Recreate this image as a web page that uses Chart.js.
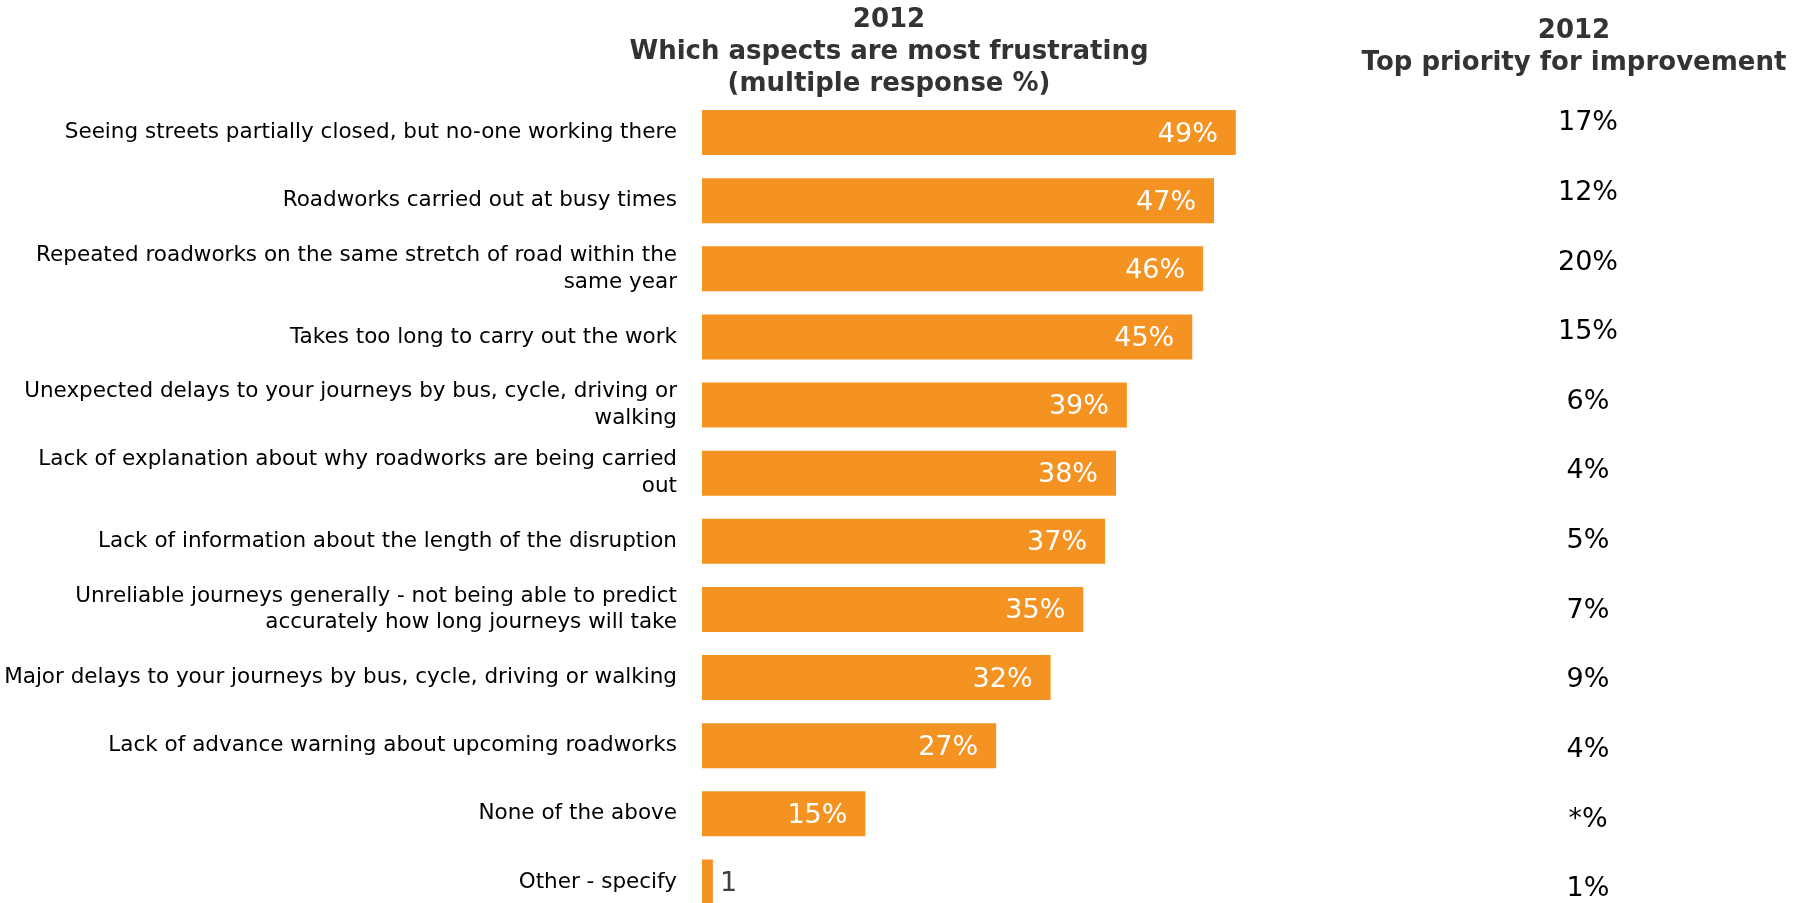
<!DOCTYPE html>
<html>
<head>
<meta charset="utf-8">
<title>Roadworks frustrations 2012</title>
<script src="https://cdn.jsdelivr.net/npm/chart.js@4.4.1/dist/chart.umd.min.js"></script>
<style>
    html, body { margin: 0; padding: 0; background: #fff; height: 903px; overflow: hidden; }
    #wrap { position: relative; width: 1796px; height: 916px; }
</style>
</head>
<body>
<div id="wrap"><canvas id="frustChart"></canvas></div>
<script>
// ========================================
// DATA
// ========================================

const aspects = [
    'Seeing streets partially closed, but no-one working there',
    'Roadworks carried out at busy times',
    ['Repeated roadworks on the same stretch of road within the', 'same year'],
    'Takes too long to carry out the work',
    ['Unexpected delays to your journeys by bus, cycle, driving or', 'walking'],
    ['Lack of explanation about why roadworks are being carried', 'out'],
    'Lack of information about the length of the disruption',
    ['Unreliable journeys generally - not being able to predict', 'accurately how long journeys will take'],
    'Major delays to your journeys by bus, cycle, driving or walking',
    'Lack of advance warning about upcoming roadworks',
    'None of the above',
    'Other - specify'
];

const frustrating = [49, 47, 46, 45, 39, 38, 37, 35, 32, 27, 15, 1];

const priorityLabels = ['17%', '12%', '20%', '15%', '6%', '4%', '5%', '7%', '9%', '4%', '*%', '1%'];

const leftHeading = ['2012', 'Which aspects are most frustrating', '(multiple response %)'];
const rightHeading = ['2012', 'Top priority for improvement'];

// ========================================
// PLUGINS
// ========================================

const BAR_COLOR = '#F59322';

// value labels: inside the bar end, or just outside for tiny bars
const barValueLabels = {
    id: 'barValueLabels',
    afterDatasetsDraw(chart) {
        const { ctx } = chart;
        const meta = chart.getDatasetMeta(0);
        ctx.save();
        ctx.font = '27px "DejaVu Sans"';
        ctx.textBaseline = 'middle';
        meta.data.forEach((bar, i) => {
            const v = frustrating[i];
            if (v >= 5) {
                ctx.fillStyle = '#ffffff';
                ctx.textAlign = 'right';
                ctx.fillText(`${v}%`, bar.x - 18, bar.y + 2);
            } else {
                ctx.fillStyle = '#404040';
                ctx.textAlign = 'left';
                ctx.fillText(`${v}`, bar.x + 7, bar.y + 2);
            }
        });
        ctx.restore();
    }
};

// column headings over the bars and over the priority column
const headings = {
    id: 'headings',
    afterDraw(chart) {
        const { ctx } = chart;
        ctx.save();
        ctx.font = 'bold 26px "DejaVu Sans"';
        ctx.fillStyle = '#333333';
        ctx.textAlign = 'center';
        ctx.textBaseline = 'middle';
        leftHeading.forEach((line, i) => ctx.fillText(line, 889, 20 + i * 32));
        rightHeading.forEach((line, i) => ctx.fillText(line, 1574, 31 + i * 32));
        ctx.restore();
    }
};

// keep label overhang from shrinking the plot height
const noScalePadding = (axis) => {
    axis.paddingTop = 0;
    axis.paddingBottom = 0;
};

// ========================================
// CHART
// ========================================

const ctx = document.getElementById('frustChart').getContext('2d');

new Chart(ctx, {
    type: 'bar',
    data: {
        labels: aspects,
        datasets: [{
            data: frustrating,
            backgroundColor: BAR_COLOR,
            borderWidth: 0,
            barPercentage: 0.66,
            categoryPercentage: 1
        }]
    },
    options: {
        indexAxis: 'y',
        responsive: true,
        maintainAspectRatio: false,
        animation: false,
        layout: { padding: { top: 98.5, right: 0, bottom: 0, left: 0 } },
        plugins: {
            legend: { display: false },
            tooltip: { enabled: false }
        },
        scales: {
            x: {
                display: false,
                min: 0,
                max: 76
            },
            y: {
                position: 'left',
                grid: { display: false, drawTicks: false },
                border: { display: false },
                ticks: {
                    padding: 25,
                    color: '#000000',
                    font: { family: 'DejaVu Sans', size: 21.5, lineHeight: 1.25 },
                    autoSkip: false
                },
                afterFit: (axis) => {
                    axis.width = 702;
                    noScalePadding(axis);
                }
            },
            // priority column: its rows sit on a slightly wider spacing than the bars
            priority: {
                type: 'linear',
                position: 'right',
                axis: 'y',
                reverse: true,
                offset: false,
                bounds: 'data',
                min: -0.355,
                max: 11.385,
                grid: { display: false, drawTicks: false },
                border: { display: false },
                afterBuildTicks: (axis) => {
                    axis.ticks = priorityLabels.map((_, i) => ({ value: i }));
                },
                ticks: {
                    padding: 28,
                    crossAlign: 'center',
                    autoSkip: false,
                    color: '#000000',
                    font: { family: 'DejaVu Sans', size: 27 },
                    callback: (value) => priorityLabels[value] ?? ''
                },
                afterFit: (axis) => {
                    axis.width = 266;
                    noScalePadding(axis);
                }
            }
        }
    },
    plugins: [barValueLabels, headings]
});
</script>
</body>
</html>
